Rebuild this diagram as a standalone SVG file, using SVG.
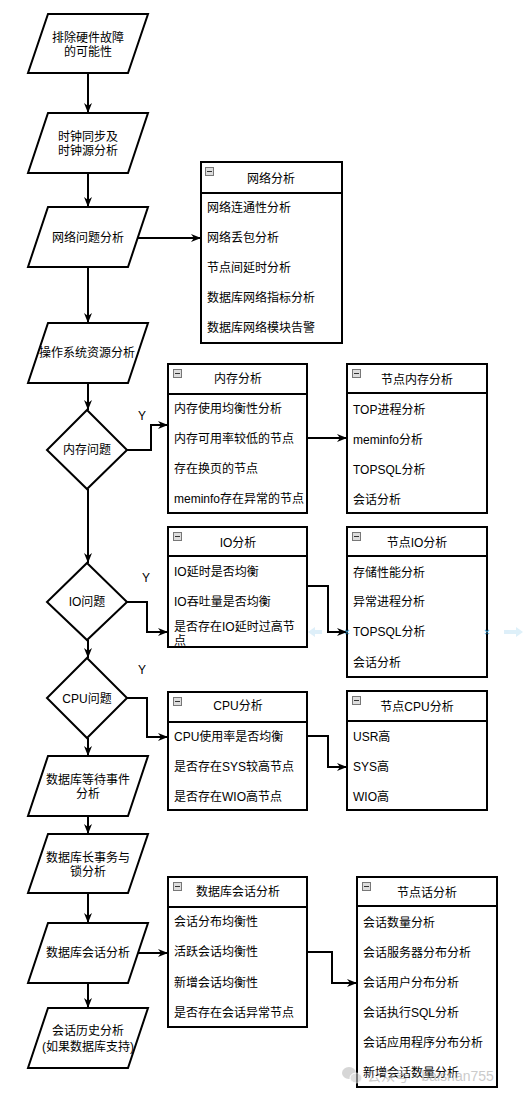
<svg xmlns="http://www.w3.org/2000/svg" width="524" height="1099" viewBox="0 0 524 1099">
<style>
text{font-family:"Liberation Sans","Noto Sans CJK SC",sans-serif;font-size:12px;fill:#000;dominant-baseline:central}
.c{text-anchor:middle}
.shape{fill:#fff;stroke:#000;stroke-width:2}
.hdr{fill:none;stroke:#000;stroke-width:2}
.icon{fill:#ddd;stroke:#777;stroke-width:1}
.conn{fill:none;stroke:#000;stroke-width:2}
</style>
<defs>
<marker id="arr" viewBox="0 0 10 10" refX="10" refY="5" markerWidth="11" markerHeight="10" orient="auto" markerUnits="userSpaceOnUse">
<path d="M0,1 L10,5 L0,9 L3,5 z" fill="#000"/>
</marker>
<g id="minus"><rect class="icon" x="0.5" y="0.5" width="8" height="8"/><line x1="2" y1="4.5" x2="7" y2="4.5" stroke="#333" stroke-width="1"/></g>
</defs>
<rect width="524" height="1099" fill="#fff"/>

<g id="connectors">
<path class="conn" marker-end="url(#arr)" d="M88,73 V113"/>
<path class="conn" marker-end="url(#arr)" d="M88,173 V207"/>
<path class="conn" marker-end="url(#arr)" d="M88,267 V323"/>
<path class="conn" marker-end="url(#arr)" d="M88,383 V410"/>
<path class="conn" marker-end="url(#arr)" d="M88,489 V563"/>
<path class="conn" marker-end="url(#arr)" d="M88,640 V658"/>
<path class="conn" marker-end="url(#arr)" d="M88,738 V756"/>
<path class="conn" marker-end="url(#arr)" d="M88,816 V834"/>
<path class="conn" marker-end="url(#arr)" d="M88,893 V923"/>
<path class="conn" marker-end="url(#arr)" d="M88,983 V1008"/>
<path class="conn" marker-end="url(#arr)" d="M138,238 H201"/>
<path class="conn" marker-end="url(#arr)" d="M127,450 H151 V425 H168"/>
<path class="conn" marker-end="url(#arr)" d="M307,438 H347"/>
<path class="conn" marker-end="url(#arr)" d="M127,602 H147 V632 H168"/>
<path class="conn" marker-end="url(#arr)" d="M307,586 H328 V632 H347"/>
<path class="conn" marker-end="url(#arr)" d="M127,698 H147 V737 H168"/>
<path class="conn" marker-end="url(#arr)" d="M307,736 H328 V767 H347"/>
<path class="conn" marker-end="url(#arr)" d="M138,953 H168"/>
<path class="conn" marker-end="url(#arr)" d="M307,952 H332 V983 H357"/>
<text x="138" y="416">Y</text>
<text x="142" y="578">Y</text>
<text x="138" y="670">Y</text>
</g>

<g id="p1"><polygon class="shape" points="48,14 148,14 128,73 28,73"/><text class="c" x="88" y="38">排除硬件故障</text><text class="c" x="88" y="52">的可能性</text></g>
<g id="p2"><polygon class="shape" points="48,113 148,113 128,173 28,173"/><text class="c" x="88" y="137">时钟同步及</text><text class="c" x="88" y="151">时钟源分析</text></g>
<g id="p3"><polygon class="shape" points="48,207 148,207 128,267 28,267"/><text class="c" x="88" y="238">网络问题分析</text></g>
<g id="p4"><polygon class="shape" points="48,323 148,323 128,383 28,383"/><text class="c" x="87" y="353">操作系统资源分析</text></g>
<g id="d1"><polygon class="shape" points="87,410 127,450 87,489 47,450"/><text class="c" x="87" y="450">内存问题</text></g>
<g id="d2"><polygon class="shape" points="87,563 127,602 87,640 47,602"/><text class="c" x="87" y="602">IO问题</text></g>
<g id="d3"><polygon class="shape" points="87,658 127,698 87,738 47,698"/><text class="c" x="87" y="699">CPU问题</text></g>
<g id="p5"><polygon class="shape" points="48,756 148,756 128,816 28,816"/><text class="c" x="88" y="780">数据库等待事件</text><text class="c" x="88" y="794">分析</text></g>
<g id="p6"><polygon class="shape" points="48,834 148,834 128,893 28,893"/><text class="c" x="88" y="858">数据库长事务与</text><text class="c" x="88" y="872">锁分析</text></g>
<g id="p7"><polygon class="shape" points="48,923 148,923 128,983 28,983"/><text class="c" x="88" y="953">数据库会话分析</text></g>
<g id="p8"><polygon class="shape" points="48,1008 148,1008 128,1068 28,1068"/><text class="c" x="88" y="1031">会话历史分析</text><text class="c" x="88" y="1047">(如果数据库支持)</text></g>

<g id="net">
<rect class="shape" x="201" y="162" width="141" height="181"/><line class="hdr" x1="201" y1="193" x2="342" y2="193"/>
<use href="#minus" x="205" y="167"/>
<text class="c" x="271" y="179">网络分析</text>
<text x="207" y="208">网络连通性分析</text><text x="207" y="238">网络丢包分析</text><text x="207" y="268">节点间延时分析</text><text x="207" y="298">数据库网络指标分析</text><text x="207" y="328">数据库网络模块告警</text>
</g>
<g id="mem">
<rect class="shape" x="168" y="364" width="139" height="149"/><line class="hdr" x1="168" y1="394" x2="307" y2="394"/>
<use href="#minus" x="173" y="369"/>
<text class="c" x="238" y="379">内存分析</text>
<text x="174" y="409">内存使用均衡性分析</text><text x="174" y="439">内存可用率较低的节点</text><text x="174" y="469">存在换页的节点</text><text x="174" y="499">meminfo存在异常的节点</text>
</g>
<g id="nmem">
<rect class="shape" x="347" y="364" width="140" height="149"/><line class="hdr" x1="347" y1="393" x2="487" y2="393"/>
<use href="#minus" x="352" y="369"/>
<text class="c" x="417" y="380">节点内存分析</text>
<text x="353" y="410">TOP进程分析</text><text x="353" y="440">meminfo分析</text><text x="353" y="470">TOPSQL分析</text><text x="353" y="500">会话分析</text>
</g>
<g id="io">
<rect class="shape" x="168" y="527" width="139" height="120"/><line class="hdr" x1="168" y1="556" x2="307" y2="556"/>
<use href="#minus" x="173" y="532"/>
<text class="c" x="238" y="543">IO分析</text>
<text x="174" y="572">IO延时是否均衡</text><text x="174" y="602">IO吞吐量是否均衡</text><text x="174" y="627">是否存在IO延时过高节</text>
<clipPath id="ioclip"><rect x="168" y="527" width="139" height="119"/></clipPath>
<text x="174" y="641" clip-path="url(#ioclip)">点</text>
</g>
<g id="nio">
<rect class="shape" x="347" y="527" width="140" height="150"/><line class="hdr" x1="347" y1="556" x2="487" y2="556"/>
<use href="#minus" x="352" y="532"/>
<text class="c" x="417" y="543">节点IO分析</text>
<text x="353" y="573">存储性能分析</text><text x="353" y="602">异常进程分析</text><text x="353" y="632">TOPSQL分析</text><text x="353" y="663">会话分析</text>
</g>
<g id="cpu">
<rect class="shape" x="168" y="692" width="139" height="118"/><line class="hdr" x1="168" y1="722" x2="307" y2="722"/>
<use href="#minus" x="173" y="697"/>
<text class="c" x="238" y="706">CPU分析</text>
<text x="174" y="737">CPU使用率是否均衡</text><text x="174" y="767">是否存在SYS较高节点</text><text x="174" y="797">是否存在WIO高节点</text>
</g>
<g id="ncpu">
<rect class="shape" x="347" y="691" width="140" height="119"/><line class="hdr" x1="347" y1="721" x2="487" y2="721"/>
<use href="#minus" x="352" y="696"/>
<text class="c" x="417" y="707">节点CPU分析</text>
<text x="353" y="737">USR高</text><text x="353" y="767">SYS高</text><text x="353" y="797">WIO高</text>
</g>
<g id="sess">
<rect class="shape" x="168" y="877" width="139" height="150"/><line class="hdr" x1="168" y1="907" x2="307" y2="907"/>
<use href="#minus" x="173" y="882"/>
<text class="c" x="238" y="892">数据库会话分析</text>
<text x="174" y="922">会话分布均衡性</text><text x="174" y="952">活跃会话均衡性</text><text x="174" y="983">新增会话均衡性</text><text x="174" y="1013">是否存在会话异常节点</text>
</g>
<g id="nsess">
<rect class="shape" x="357" y="877" width="140" height="210"/><line class="hdr" x1="357" y1="906" x2="497" y2="906"/>
<use href="#minus" x="362" y="882"/>
<text class="c" x="427" y="893">节点话分析</text>
<text x="363" y="923">会话数量分析</text><text x="363" y="953">会话服务器分布分析</text><text x="363" y="983">会话用户分布分析</text><text x="363" y="1013">会话执行SQL分析</text><text x="363" y="1043">会话应用程序分布分析</text><text x="363" y="1073">新增会话数量分析</text>
</g>

<g id="artifacts" opacity="0.8">
<path d="M308,632 L315,627 L315,630 L322,630 L322,634 L315,634 L315,637 z" fill="#d6ecf8"/>
<path d="M523,632 L516,627 L516,630 L504,630 L504,634 L516,634 L516,637 z" fill="#d6ecf8"/>
<path d="M345,630 L349,634 M349,630 L345,634 M485,630 L489,634 M489,630 L485,634" stroke="#4aa8dc" stroke-width="1.2"/>
</g>
<g id="watermark" opacity="0.6">
<ellipse cx="349" cy="1073" rx="7" ry="6" fill="#bbb"/>
<ellipse cx="356" cy="1078" rx="6" ry="5" fill="#ccc" stroke="#fff" stroke-width="1"/>
<text x="367" y="1076" style="font-size:14px;fill:#aaa">公众号 · baishan755</text>
</g>
</svg>
